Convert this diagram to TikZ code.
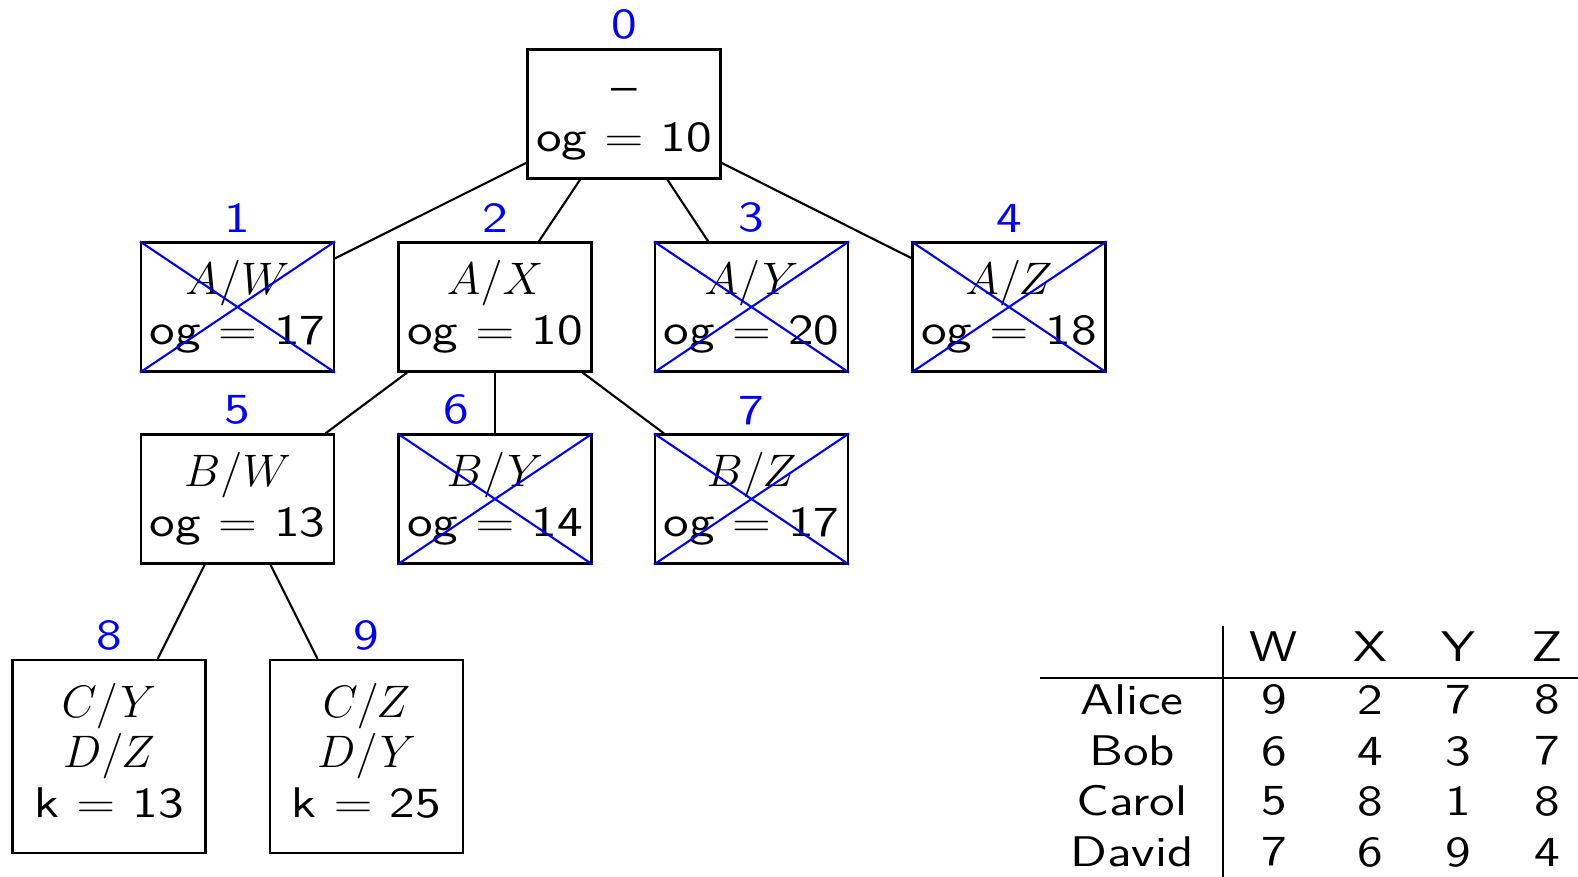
\documentclass[tikz,border=0pt]{standalone}
\usepackage{graphicx}
\newcommand{\sx}[1]{\scalebox{1.22}[1]{#1}}
\newcommand{\mx}[1]{\scalebox{1.08}{$#1$}}
\tikzset{
  cand/.style={draw, line width=0.6pt, minimum width=1.93cm, minimum height=1.29cm,
    inner sep=0pt, align=center, font=\fontsize{12.2}{14.2}\selectfont\sffamily},
  leaf/.style={cand, minimum height=1.93cm},
  num/.style={blue, inner sep=2.3pt, font=\fontsize{12.2}{14.2}\selectfont\sffamily},
  cut/.style={blue, line width=0.6pt},
  tab/.style={inner sep=0pt, font=\fontsize{12.2}{14.2}\selectfont\sffamily}
}
\begin{document}
\begin{tikzpicture}
\useasboundingbox (0,0) rectangle (15.78,-8.77);
% search tree
\node[cand,label={[num]above:\sx{0}}] (n0) at (6.24,-1.14) {\sx{--}\mx{\vphantom{A/X}}\\\sx{og $=$ 10}};
\node[cand,label={[num]above:\sx{1}}] (n1) at (2.375,-3.07) {\mx{A/W}\\\sx{og $=$ 17}};
\node[cand,label={[num]above:\sx{2}}] (n2) at (4.95,-3.07) {\mx{A/X}\\\sx{og $=$ 10}};
\node[cand,label={[num]above:\sx{3}}] (n3) at (7.515,-3.07) {\mx{A/Y}\\\sx{og $=$ 20}};
\node[cand,label={[num]above:\sx{4}}] (n4) at (10.09,-3.07) {\mx{A/Z}\\\sx{og $=$ 18}};
\node[cand,label={[num]above:\sx{5}}] (n5) at (2.375,-4.99) {\mx{B/W}\\\sx{og $=$ 13}};
\node[cand,label={[num,xshift=-0.39cm]above:\sx{6}}] (n6) at (4.95,-4.99) {\mx{B/Y}\\\sx{og $=$ 14}};
\node[cand,label={[num]above:\sx{7}}] (n7) at (7.515,-4.99) {\mx{B/Z}\\\sx{og $=$ 17}};
\node[leaf,label={[num]above:\sx{8}}] (n8) at (1.09,-7.565) {\mx{C/Y}\\\mx{D/Z}\\\sx{k $=$ 13}\rule[-3.4pt]{0pt}{0pt}};
\node[leaf,label={[num]above:\sx{9}}] (n9) at (3.665,-7.565) {\mx{C/Z}\\\mx{D/Y}\\\sx{k $=$ 25}\rule[-3.4pt]{0pt}{0pt}};
\foreach \a/\b in {n0/n1,n0/n2,n0/n3,n0/n4,n2/n5,n2/n6,n2/n7,n5/n8,n5/n9}
  \draw[line width=0.6pt] (\a) -- (\b);
% pruned nodes
\foreach \n in {n1,n3,n4,n6,n7}
  \draw[cut] (\n.north west) -- (\n.south east) (\n.south west) -- (\n.north east);
% cost table
\draw[line width=0.6pt] (12.23,-6.26) -- (12.23,-8.77);
\draw[line width=0.6pt] (10.40,-6.78) -- (15.78,-6.78);
\foreach \c/\x in {W/12.74,X/13.70,Y/14.58,Z/15.47}
  \node[tab] (h\c) at (\x,-6.47) {\sx{\c}};
\foreach \name/\y/\a/\b/\c/\d in {Alice/-6.995/9/2/7/8,Bob/-7.51/6/4/3/7,Carol/-8.01/5/8/1/8,David/-8.52/7/6/9/4} {
  \node[tab] (\name) at (11.32,\y) {\sx{\name}};
  \node[tab] (\name-W) at (12.74,\y) {\sx{\a}};
  \node[tab] (\name-X) at (13.70,\y) {\sx{\b}};
  \node[tab] (\name-Y) at (14.58,\y) {\sx{\c}};
  \node[tab] (\name-Z) at (15.47,\y) {\sx{\d}};
}
\end{tikzpicture}
\end{document}
